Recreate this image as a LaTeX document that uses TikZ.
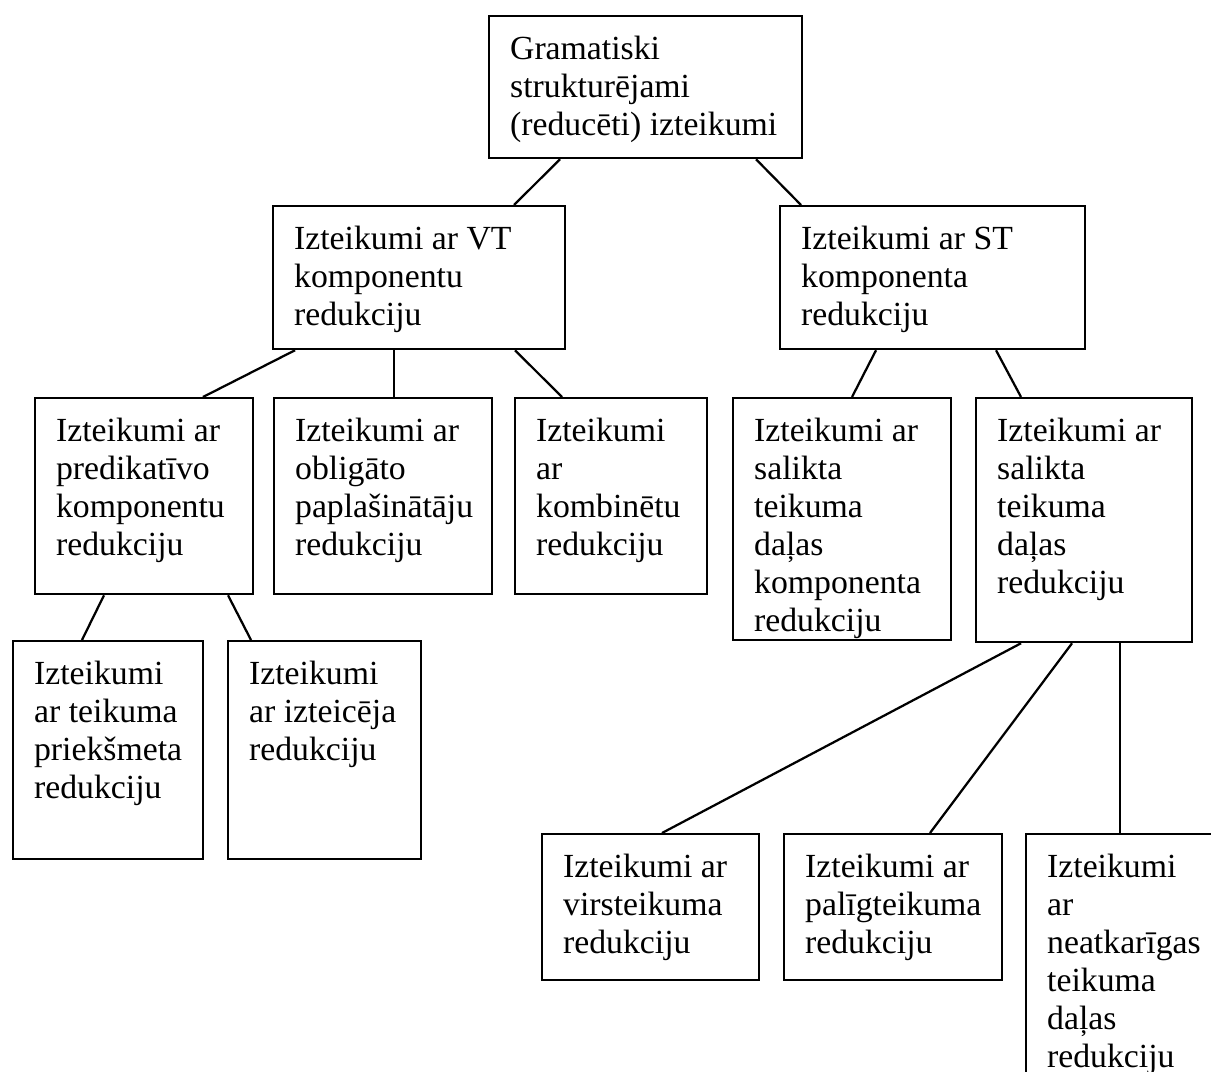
\documentclass[tikz,border=0pt]{standalone}
\usepackage{fontspec}
\setmainfont{Liberation Serif}
\usetikzlibrary{calc}
\newlength{\px}
\setlength{\px}{0.0125cm}
\tikzset{
  blk/.style={draw, line width=0.8pt, anchor=north west, inner xsep=21\px, inner ysep=20\px,
    font=\fontsize{12}{13.5}\selectfont},
  link/.style={line width=0.8pt},
}
% bloks: vards, x, y, platums, augstums, teksts
\newcommand{\klase}[6]{\node[blk] (#1) at (#2,#3)
  {\parbox[c][\dimexpr#5\px-40\px\relax][t]{\dimexpr#4\px-42\px\relax}{\raggedright #6}};}
\begin{document}
\begin{tikzpicture}[x=0.0125cm, y=-0.0125cm]
    \useasboundingbox (0,0) rectangle (1211,1071);
    \clip (0,0) rectangle (1211,1071);

    % bloki
    \klase{root}{488}{15}{313}{142}{Gramatiski\\ strukturējami\\ (reducēti) izteikumi}
    \klase{vt}{272}{205}{292}{143}{Izteikumi ar VT\\ komponentu\\ redukciju}
    \klase{st}{779}{205}{305}{143}{Izteikumi ar ST\\ komponenta\\ redukciju}
    \klase{pred}{34}{397}{218}{196}{Izteikumi ar\\ predikatīvo\\ komponentu\\ redukciju}
    \klase{oblig}{273}{397}{218}{196}{Izteikumi ar\\ obligāto\\ paplašinātāju\\ redukciju}
    \klase{komb}{514}{397}{192}{196}{Izteikumi\\ ar\\ kombinētu\\ redukciju}
    \klase{komp}{732}{397}{218}{242}{Izteikumi ar\\ salikta\\ teikuma\\ daļas\\ komponenta\\ redukciju}
    \klase{dalas}{975}{397}{216}{244}{Izteikumi ar\\ salikta\\ teikuma\\ daļas\\ redukciju}
    \klase{priek}{12}{640}{190}{218}{Izteikumi\\ ar teikuma\\ priekšmeta\\ redukciju}
    \klase{izteic}{227}{640}{193}{218}{Izteikumi\\ ar izteicēja\\ redukciju}
    \klase{virs}{541}{833}{217}{146}{Izteikumi ar\\ virsteikuma\\ redukciju}
    \klase{palig}{783}{833}{218}{146}{Izteikumi ar\\ palīgteikuma\\ redukciju}
    \klase{neatk}{1025}{833}{230}{300}{Izteikumi\\ ar\\ neatkarīgas\\ teikuma\\ daļas\\ redukciju}

    % savienojumi
    \draw[link] ($(root.south west)+(72,0)$) -- ($(vt.north west)+(242,0)$);
    \draw[link] ($(root.south west)+(268,0)$) -- ($(st.north west)+(22,0)$);
    \draw[link] ($(vt.south west)+(23,0)$) -- ($(pred.north west)+(169,0)$);
    \draw[link] ($(vt.south west)+(122,0)$) -- ($(oblig.north west)+(121,0)$);
    \draw[link] ($(vt.south west)+(243,0)$) -- ($(komb.north west)+(48,0)$);
    \draw[link] ($(pred.south west)+(70,0)$) -- ($(priek.north west)+(70,0)$);
    \draw[link] ($(pred.south west)+(194,0)$) -- ($(izteic.north west)+(24,0)$);
    \draw[link] ($(st.south west)+(97,0)$) -- ($(komp.north west)+(120,0)$);
    \draw[link] ($(st.south west)+(217,0)$) -- ($(dalas.north west)+(46,0)$);
    \draw[link] ($(dalas.south west)+(46,0)$) -- ($(virs.north west)+(121,0)$);
    \draw[link] ($(dalas.south west)+(97,0)$) -- ($(palig.north west)+(147,0)$);
    \draw[line width=0.4pt] ($(dalas.south west)+(145,0)$) -- ($(neatk.north west)+(95,0)$);
\end{tikzpicture}
\end{document}
